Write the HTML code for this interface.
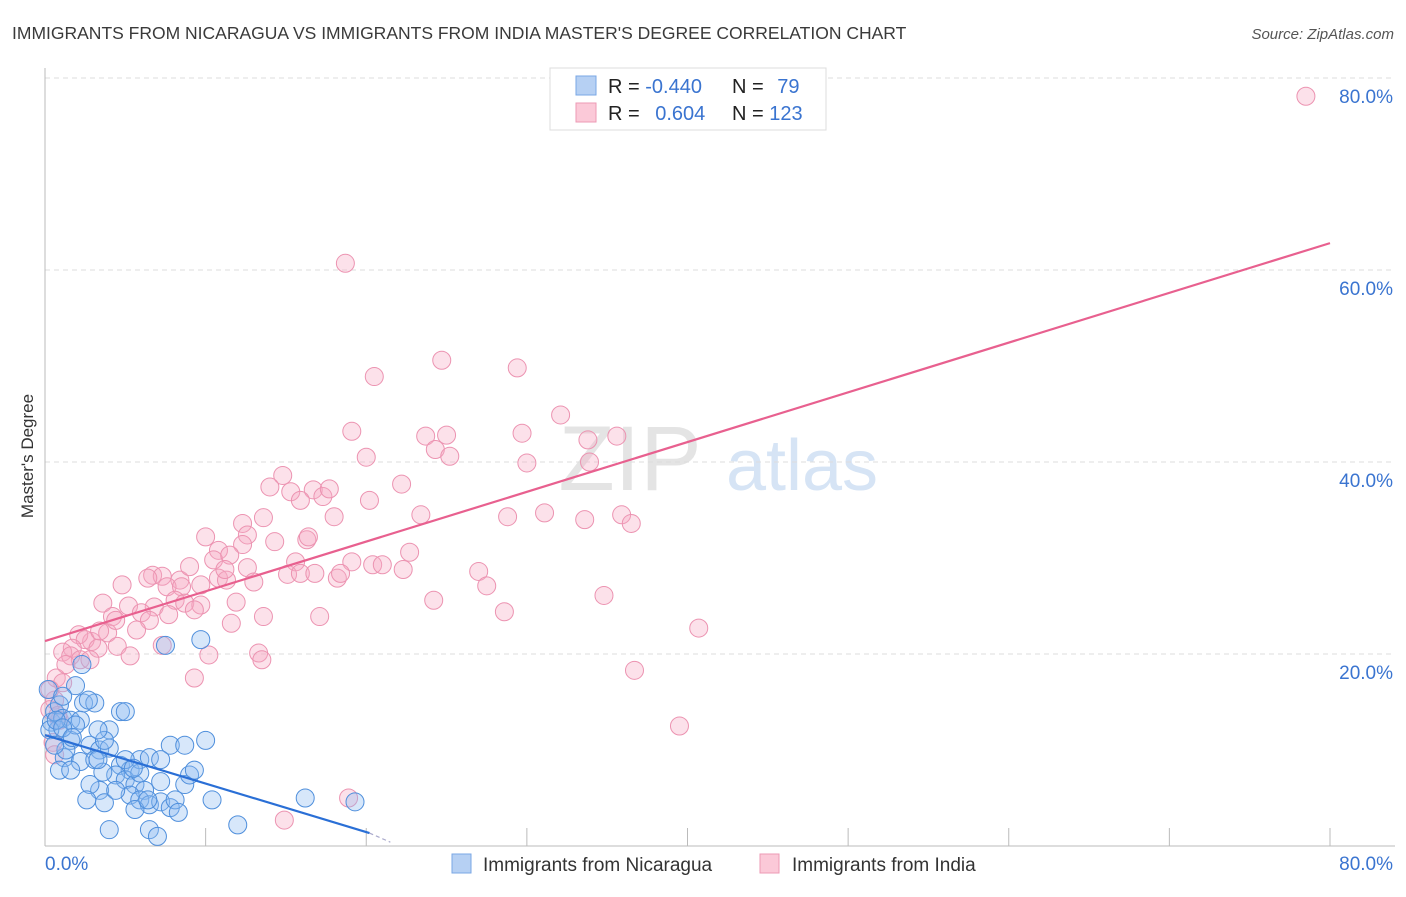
<!DOCTYPE html>
<html><head><meta charset="utf-8"><style>
body{margin:0;background:#fff;font-family:"Liberation Sans",sans-serif}
svg text{font-family:"Liberation Sans",sans-serif}
</style></head><body>
<svg id="chart" width="1406" height="892" xmlns="http://www.w3.org/2000/svg">
<text x="12" y="39" font-size="17.5" fill="#3a3a3a">IMMIGRANTS FROM NICARAGUA VS IMMIGRANTS FROM INDIA MASTER'S DEGREE CORRELATION CHART</text>
<text x="1394" y="39" font-size="15" font-style="italic" fill="#555" text-anchor="end">Source: ZipAtlas.com</text>
<text transform="translate(33,456) rotate(-90)" font-size="17" fill="#333" text-anchor="middle">Master's Degree</text>
<g>
<text x="630" y="490" font-size="92" fill="#e4e4e4" font-family="Liberation Serif" text-anchor="middle">ZIP</text>
<text x="802" y="490" font-size="72" fill="#d6e4f5" text-anchor="middle">atlas</text>
</g>
<g id="grid"></g><g id="axes"></g><g id="pts"></g><g id="lines"></g>
<g>
<rect x="550" y="68" width="276" height="62" fill="#fff" stroke="#ddd"/>
<rect x="576" y="76" width="20" height="19" fill="#b6d0f3" stroke="#7aa7e4"/>
<rect x="576" y="103" width="20" height="19" fill="#fbc9d8" stroke="#ec9ab5"/>
<text x="608" y="93" font-size="20" fill="#222">R = <tspan fill="#3a74d0">-0.440</tspan></text>
<text x="732" y="93" font-size="20" fill="#222">N = <tspan fill="#3a74d0" dx="8">79</tspan></text>
<text x="608" y="120" font-size="20" fill="#222">R = <tspan fill="#3a74d0" dx="10">0.604</tspan></text>
<text x="732" y="120" font-size="20" fill="#222">N = <tspan fill="#3a74d0">123</tspan></text>
</g>
<g>
<rect x="452" y="854" width="19" height="19" fill="#b6d0f3" stroke="#7aa7e4"/>
<text x="483" y="871" font-size="19" fill="#333">Immigrants from Nicaragua</text>
<rect x="760" y="854" width="19" height="19" fill="#fbc9d8" stroke="#ec9ab5"/>
<text x="792" y="871" font-size="19" fill="#333">Immigrants from India</text>
</g>
</svg>
<script>
const yTicks=[20,40,60,80];
const yTickLabels=["20.0%","40.0%","60.0%","80.0%"];
const xTicks=[0,10,20,30,40,50,60,70,80];
const nicX=[0.4,0.6,0.9,0.2,1.9,2.3,1.1,0.8,1.6,2.8,3.4,4.0,1.2,2.2,3.1,4.7,5.3,5.9,6.5,4.4,5.0,5.6,6.2,3.4,2.8,3.7,5.3,5.9,6.5,7.2,7.8,8.1,8.7,9.0,9.3,7.8,8.7,10.0,9.7,7.5,4.7,5.0,2.4,3.1,1.6,2.2,4.0,3.7,0.9,4.0,6.5,7.0,10.4,12.0,16.2,19.3,5.6,1.3,1.9,0.3,0.7,1.1,3.3,5.9,7.2,8.3,7.2,5.0,2.7,1.7,2.6,4.4,3.6,6.4,5.5,3.3,1.6,0.6,1.1];
const nicY=[12.9,14.0,14.7,16.3,16.7,18.9,13.3,12.1,11.0,10.5,10.0,10.2,9.2,8.8,9.0,8.4,7.9,9.0,9.2,7.4,6.9,6.4,5.8,5.8,6.4,4.5,5.3,4.8,4.3,4.6,4.0,4.8,6.4,7.4,7.9,10.5,10.5,11.0,21.5,20.9,14.0,14.0,14.9,14.9,13.1,13.1,12.1,11.0,7.9,1.7,1.7,1.0,4.8,2.2,5.0,4.6,3.8,10.0,12.6,12.1,13.1,12.3,12.1,7.6,6.7,3.5,9.0,9.0,15.2,11.3,4.8,5.8,7.7,4.8,8.1,9.0,7.9,10.5,15.6];
const indX=[78.5,18.7,24.7,29.4,20.5,32.1,19.1,23.7,25.0,33.8,35.6,29.7,20.0,24.3,25.2,30.0,33.9,14.8,14.0,15.3,16.7,17.3,17.7,15.9,22.2,20.2,13.6,12.3,18.0,23.4,28.8,31.1,33.6,35.9,36.5,10.0,12.6,14.3,16.3,16.4,10.8,12.3,10.5,11.5,19.1,22.7,15.6,6.7,7.3,6.4,8.4,9.0,12.6,10.8,15.1,15.9,16.8,18.2,18.4,20.4,21.0,22.3,27.0,27.5,4.8,7.6,8.5,11.3,13.0,24.2,34.8,3.6,5.2,6.8,8.1,8.7,9.7,11.9,17.1,28.6,4.2,6.0,6.5,7.7,9.3,11.6,3.9,5.7,2.9,2.1,2.5,3.3,4.5,7.3,40.7,1.7,1.1,1.6,2.2,5.3,10.2,13.3,13.5,36.7,9.3,0.7,1.1,0.6,0.3,0.5,0.6,39.5,14.9,18.9,3.4,4.4,2.8,1.3,11.2,13.6,9.7,0.3,0.9,0.8];
const indY=[78.1,60.7,50.6,49.8,48.9,44.9,43.2,42.7,42.8,42.3,42.7,43.0,40.5,41.3,40.6,39.9,40.0,38.6,37.4,36.9,37.1,36.4,37.2,36.0,37.7,36.0,34.2,33.6,34.3,34.5,34.3,34.7,34.0,34.5,33.6,32.2,32.4,31.7,31.9,32.2,30.8,31.4,29.8,30.3,29.6,30.6,29.6,28.2,28.1,27.9,27.7,29.1,29.0,27.9,28.3,28.4,28.4,27.9,28.4,29.3,29.3,28.8,28.6,27.1,27.2,27.0,27.0,27.7,27.5,25.6,26.1,25.3,25.0,24.9,25.6,25.3,25.1,25.4,23.9,24.4,23.9,24.3,23.5,24.1,24.6,23.2,22.2,22.5,21.3,22.0,21.5,20.6,20.8,20.9,22.7,20.6,20.2,19.8,19.4,19.8,19.9,20.1,19.4,18.3,17.5,17.5,17.0,15.2,14.2,10.8,9.5,12.5,2.7,5.0,22.4,23.5,19.4,18.9,28.8,23.9,27.2,16.3,13.1,13.6];
const nicTrend=[[0,11.56],[20.2,1.35]];
const nicTrendDash=[[20.2,1.35],[21.5,0.4]];
const indTrend=[[0,21.35],[80,62.8]];
const NS="http://www.w3.org/2000/svg";
const sx=v=>45+v*16.0625, sy=v=>846-v*9.6;
function mk(parent,tag,attrs){const e=document.createElementNS(NS,tag);for(const k in attrs)e.setAttribute(k,attrs[k]);document.getElementById(parent).appendChild(e);return e;}
yTicks.forEach((t,i)=>{
 const g=mk('grid','line',{x1:45,x2:1395,y1:sy(t),y2:sy(t),stroke:'#ddd','stroke-dasharray':'5,4'});
 
 
 const l=mk('axes','text',{x:1393,y:sy(t)+25,'font-size':19,fill:'#3a74d0','text-anchor':'end'});
 l.textContent=yTickLabels[i];
 
 
});
const ax=mk('axes','line',{x1:45,x2:1395,y1:846,y2:846,stroke:'#bbb'});


const ay=mk('axes','line',{x1:45,x2:45,y1:68,y2:846,stroke:'#bbb'});


xTicks.slice(1).forEach(t=>{
 const k=mk('axes','line',{x1:sx(t),x2:sx(t),y1:828,y2:846,stroke:'#bbb'});
 
 
});
const x0=mk('axes','text',{x:45,y:870,'font-size':19,fill:'#3a74d0'});x0.textContent='0.0%';


const x1=mk('axes','text',{x:1393,y:870,'font-size':19,fill:'#3a74d0','text-anchor':'end'});x1.textContent='80.0%';


indX.forEach((v,i)=>{
 const c=mk('pts','circle',{cx:sx(v),cy:sy(indY[i]),r:9,fill:'rgba(246,168,194,0.35)',stroke:'#ec93b1','stroke-width':1});
 
 
});
nicX.forEach((v,i)=>{
 const c=mk('pts','circle',{cx:sx(v),cy:sy(nicY[i]),r:9,fill:'rgba(140,185,240,0.35)',stroke:'#4f8fdc','stroke-width':1});
 
 
});
const t1=mk('lines','line',{x1:sx(indTrend[0][0]),y1:sy(indTrend[0][1]),x2:sx(indTrend[1][0]),y2:sy(indTrend[1][1]),stroke:'#e8608f','stroke-width':2.2});


const t2=mk('lines','line',{x1:sx(nicTrend[0][0]),y1:sy(nicTrend[0][1]),x2:sx(nicTrend[1][0]),y2:sy(nicTrend[1][1]),stroke:'#2a6fd6','stroke-width':2.2});


const t3=mk('lines','line',{x1:sx(nicTrendDash[0][0]),y1:sy(nicTrendDash[0][1]),x2:sx(nicTrendDash[1][0]),y2:sy(nicTrendDash[1][1]),stroke:'#aac','stroke-width':1.2,'stroke-dasharray':'4,3'});


</script>
</body></html>
